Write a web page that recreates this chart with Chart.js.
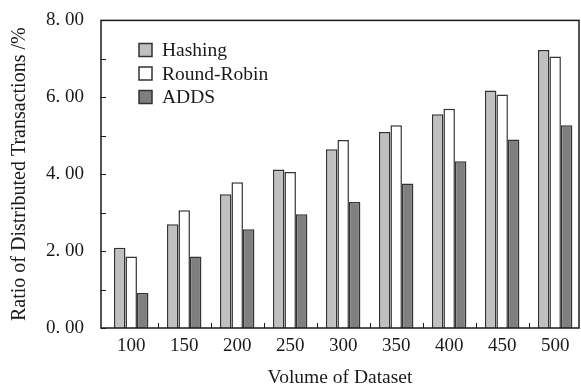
<!DOCTYPE html>
<html>
<head>
<meta charset="utf-8">
<script src="https://cdn.jsdelivr.net/npm/chart.js@4.4.1/dist/chart.umd.min.js"></script>
<style>
    html, body { margin: 0; padding: 0; background: #fff; }
    #wrap { width: 581px; height: 387px; }
</style>
</head>
<body>
<div id="wrap"><canvas id="chart"></canvas></div>
<script>
// Data
const volumes = [100, 150, 200, 250, 300, 350, 400, 450, 500];
const hashing = [2.09, 2.70, 3.48, 4.12, 4.65, 5.10, 5.56, 6.18, 7.23];
const roundRobin = [1.86, 3.06, 3.79, 4.06, 4.89, 5.27, 5.70, 6.07, 7.06];
const adds = [0.91, 1.86, 2.57, 2.96, 3.28, 3.76, 4.34, 4.90, 5.27];
const seriesNames = ['Hashing', 'Round-Robin', 'ADDS'];

const FONT = '"Liberation Serif", "DejaVu Serif", serif';
const INK = '#1a1a1a';

function points(values) {
    return volumes.map((v, i) => ({ x: v, y: values[i] }));
}

// frame, inward tick marks and the legend inside the plot
const framePlugin = {
    id: 'frame',
    afterDraw(chart) {
        const { ctx, chartArea: a, scales } = chart;
        ctx.save();
        ctx.strokeStyle = INK;
        ctx.lineWidth = 1.5;
        ctx.strokeRect(a.left, a.top, a.right - a.left, a.bottom - a.top);

        ctx.lineWidth = 1;
        ctx.beginPath();
        for (let v = 0; v <= 8; v++) {
            const y = Math.round(scales.y.getPixelForValue(v)) + 0.5;
            ctx.moveTo(a.left, y);
            ctx.lineTo(a.left + 5, y);
        }
        for (let i = 0; i < volumes.length - 1; i++) {
            const x = Math.round(scales.x.getPixelForValue((volumes[i] + volumes[i + 1]) / 2)) + 0.5;
            ctx.moveTo(x, a.bottom);
            ctx.lineTo(x, a.bottom - 5);
        }
        ctx.stroke();

        // legend
        ctx.font = '19.5px ' + FONT;
        ctx.textBaseline = 'middle';
        chart.data.datasets.forEach((ds, i) => {
            const cy = 50 + i * 23.5;
            ctx.fillStyle = ds.backgroundColor;
            ctx.fillRect(139, cy - 6.5, 13, 13);
            ctx.strokeStyle = '#333';
            ctx.lineWidth = 1.5;
            ctx.strokeRect(139, cy - 6.5, 13, 13);
            ctx.fillStyle = INK;
            ctx.fillText(ds.label, 162, cy + 1);
        });
        ctx.restore();
    }
};

const ctx = document.getElementById('chart').getContext('2d');
new Chart(ctx, {
    type: 'bar',
    data: {
        datasets: [
            { label: seriesNames[0], data: points(hashing), backgroundColor: '#c0c0c0' },
            { label: seriesNames[1], data: points(roundRobin), backgroundColor: '#ffffff' },
            { label: seriesNames[2], data: points(adds), backgroundColor: '#7f7f7f' }
        ]
    },
    options: {
        responsive: true,
        maintainAspectRatio: false,
        animation: false,
        devicePixelRatio: 1,
        layout: { padding: { top: 17, right: 2, left: 0, bottom: 0 } },
        datasets: {
            bar: {
                borderColor: '#333333',
                borderWidth: 1.5,
                categoryPercentage: 0.65,
                barPercentage: 1.0
            }
        },
        plugins: {
            legend: { display: false },
            tooltip: { enabled: false }
        },
        scales: {
            x: {
                type: 'linear',
                offset: false,
                min: 71.5,
                max: 522.5,
                afterBuildTicks: (scale) => {
                    scale.ticks = volumes.map(v => ({ value: v }));
                },
                afterFit: (scale) => { scale.height = 59; },
                grid: { display: false, offset: false },
                border: { display: false },
                ticks: {
                    color: INK,
                    font: { family: FONT, size: 19 },
                    padding: -1,
                    maxRotation: 0,
                    autoSkip: false,
                    callback: (v) => String(v)
                },
                title: {
                    display: true,
                    text: 'Volume of Dataset',
                    color: INK,
                    font: { family: FONT, size: 19.5 },
                    padding: { top: 0, bottom: -3 }
                }
            },
            y: {
                min: 0,
                max: 8,
                afterFit: (scale) => { scale.width = 101; },
                grid: { display: false },
                border: { display: false },
                ticks: {
                    stepSize: 1,
                    color: INK,
                    font: { family: FONT, size: 19 },
                    padding: 9,
                    callback: (v) => v % 2 === 0 ? v.toFixed(2).replace('.', '. ') : ''
                },
                title: {
                    display: true,
                    text: 'Ratio of Distributed Transactions /%',
                    color: INK,
                    font: { family: FONT, size: 20 },
                    padding: { top: 8, bottom: 0 }
                }
            }
        }
    },
    plugins: [framePlugin]
});
</script>
</body>
</html>
